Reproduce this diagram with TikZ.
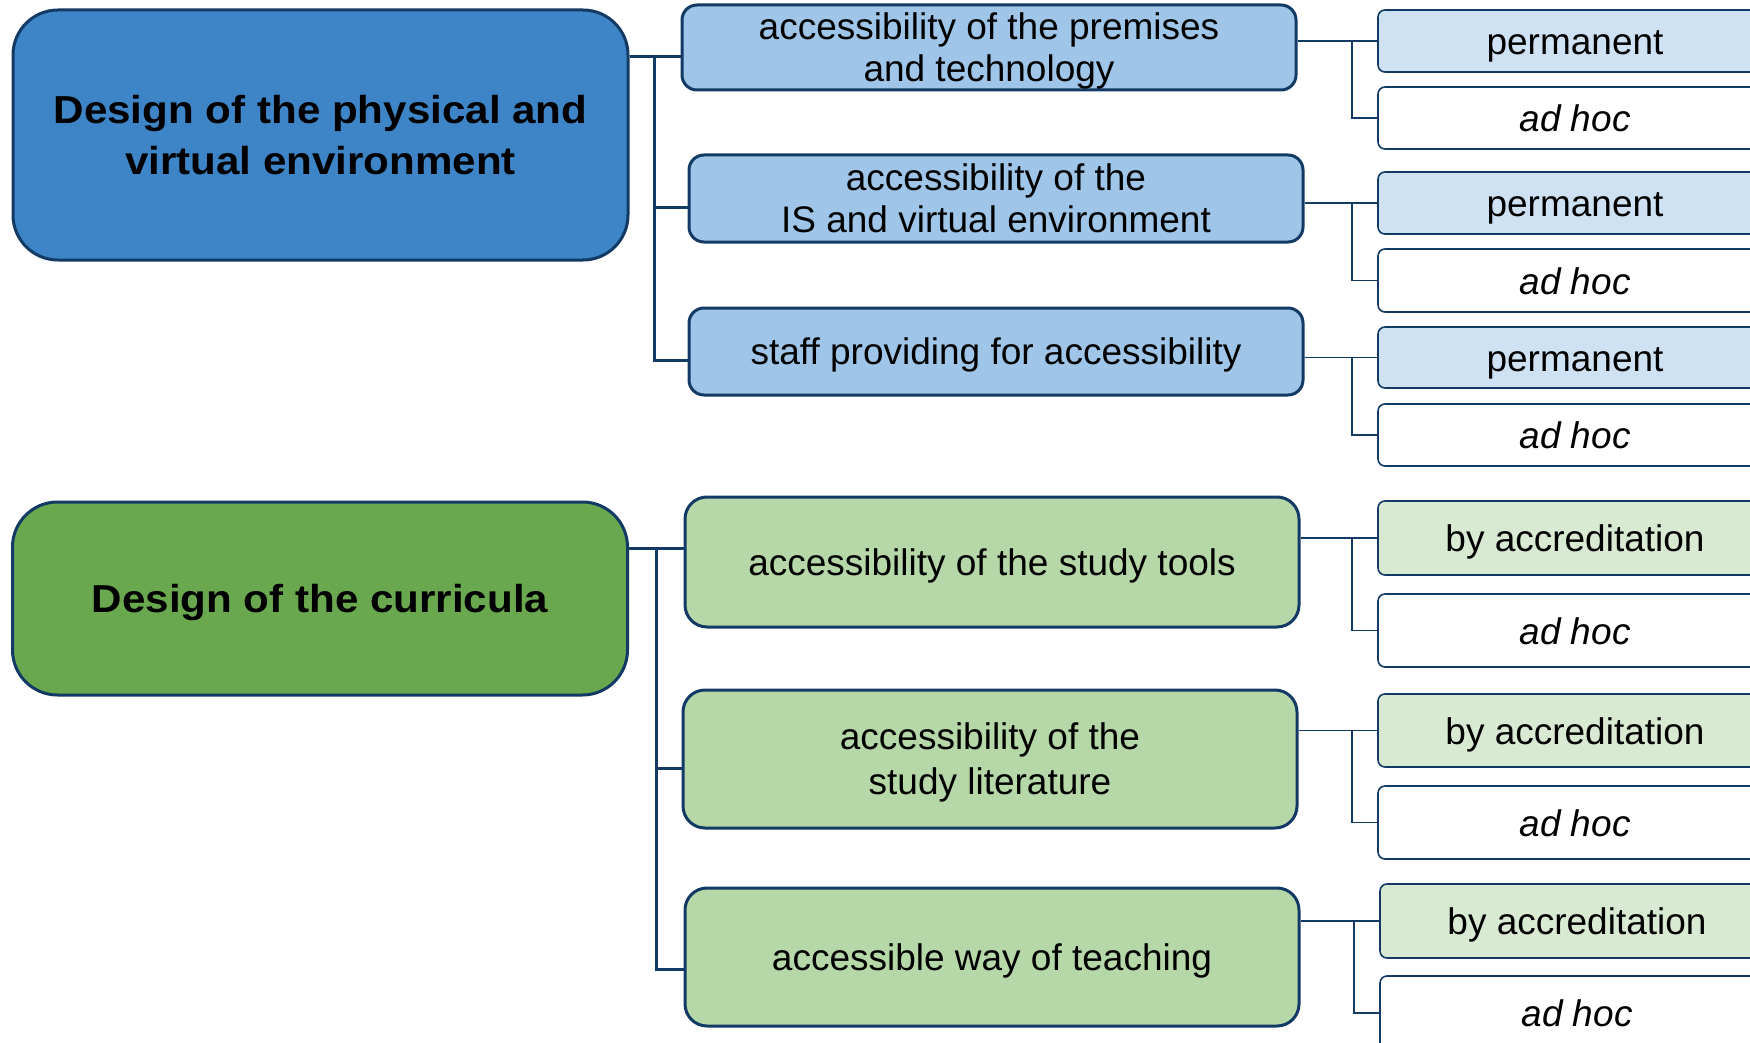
\documentclass[tikz,border=0pt]{standalone}
\usepackage{fontspec}
\setmainfont{Liberation Sans}
\newfontfamily\areafont[FakeStretch=1.08]{Liberation Sans}
\usepackage{xcolor}
\usepackage{tikz}
\usetikzlibrary{shapes,calc}
\definecolor{navy}{RGB}{18,58,100}
\definecolor{envblue}{RGB}{61,133,198}
\definecolor{envlight}{RGB}{159,197,232}
\definecolor{envpale}{RGB}{207,226,243}
\definecolor{curgreen}{RGB}{106,168,79}
\definecolor{curlight}{RGB}{182,215,168}
\definecolor{curpale}{RGB}{217,234,211}

\begin{document}
\begin{tikzpicture}[x=1pt, y=-1pt]
    \tikzstyle{area} = [rectangle, rounded corners=45pt, draw=navy, line width=3pt, minimum width=615pt, inner sep=2pt, text depth=0pt, align=center, font=\areafont\fontsize{39}{51}\selectfont\bfseries]
    \tikzstyle{aspect} = [rectangle, rounded corners=15pt, draw=navy, line width=3pt, minimum width=614pt, inner sep=2pt, text depth=0pt, align=center, font=\fontsize{37}{42}\selectfont]
    \tikzstyle{mode} = [rectangle, rounded corners=7pt, draw=navy, line width=1.6pt, minimum width=394pt, inner sep=2pt, text height=27pt, text depth=0pt, font=\fontsize{37}{42}\selectfont]
    \tikzstyle{trunk} = [line width=3pt, navy]
    \tikzstyle{twig} = [line width=1.6pt, navy]

    \useasboundingbox (0,0) rectangle (1750,1043);
    \clip (0,0) rectangle (1750,1043);

    % the two areas
    \node (env) [area, fill=envblue, minimum height=250pt] at (320.5,135) {Design of the physical and\\virtual environment};
    \node (cur) [area, fill=curgreen, minimum height=193pt] at (320,598.5) {Design of the curricula};

    % what each area covers
    \node (prem) [aspect, fill=envlight, minimum height=85pt] at (989,47.5) {accessibility of the premises\\and technology};
    \node (info) [aspect, fill=envlight, minimum height=87pt] at (996,198.5) {accessibility of the\\IS and virtual environment};
    \node (staff) [aspect, fill=envlight, minimum height=87pt] at (996,351.5) {staff providing for accessibility};
    \node (tools) [aspect, fill=curlight, rounded corners=22pt, minimum height=130pt] at (992,562) {accessibility of the study tools};
    \node (lit) [aspect, fill=curlight, rounded corners=22pt, minimum height=138pt, font=\fontsize{37}{45}\selectfont] at (990,759) {accessibility of the\\study literature};
    \node (teach) [aspect, fill=curlight, rounded corners=22pt, minimum height=138pt] at (992,957) {accessible way of teaching};

    % how it is provided
    \node (perm1) [mode, fill=envpale, minimum height=62pt] at (1575,41) {permanent};
    \node (hoc1) [mode, fill=white, minimum height=62pt] at (1575,118) {\itshape ad hoc};
    \node (perm2) [mode, fill=envpale, minimum height=62pt] at (1575,203) {permanent};
    \node (hoc2) [mode, fill=white, minimum height=63pt] at (1575,280.5) {\itshape ad hoc};
    \node (perm3) [mode, fill=envpale, minimum height=61pt] at (1575,357.5) {permanent};
    \node (hoc3) [mode, fill=white, minimum height=62pt] at (1575,435) {\itshape ad hoc};
    \node (accr4) [mode, fill=curpale, minimum height=74pt] at (1575,538) {by accreditation};
    \node (hoc4) [mode, fill=white, minimum height=73pt] at (1575,630.5) {\itshape ad hoc};
    \node (accr5) [mode, fill=curpale, minimum height=73pt] at (1575,730.5) {by accreditation};
    \node (hoc5) [mode, fill=white, minimum height=73pt] at (1575,822.5) {\itshape ad hoc};
    \node (accr6) [mode, fill=curpale, minimum height=74pt] at (1577,921) {by accreditation};
    \node (hoc6) [mode, fill=white, minimum height=74pt] at (1577,1013) {\itshape ad hoc};

    % entry points on the left of the middle boxes
    \coordinate (a1) at ($(prem.north west)!.6!(prem.south west)$);
    \coordinate (a2) at ($(info.north west)!.6!(info.south west)$);
    \coordinate (a3) at ($(staff.north west)!.6!(staff.south west)$);
    \coordinate (b1) at ($(tools.north west)!.4!(tools.south west)$);
    \coordinate (b2) at ($(lit.north west)!.57!(lit.south west)$);
    \coordinate (b3) at ($(teach.north west)!.59!(teach.south west)$);

    \draw [trunk] (env.east |- a1) -- (a1);
    \draw [trunk] (a1) ++(-26,0) coordinate (ta) |- (a3);
    \draw [trunk] (ta |- a2) -- (a2);

    \draw [trunk] (cur.east |- b1) -- (b1);
    \draw [trunk] (b1) ++(-27,0) coordinate (tb) |- (b3);
    \draw [trunk] (tb |- b2) -- (b2);

    \draw [twig] (prem.east |- perm1.west) -- (perm1.west);
    \draw [twig] (perm1.west) ++(-25,0) |- (hoc1.west);
    \draw [twig] (info.east |- perm2.west) -- (perm2.west);
    \draw [twig] (perm2.west) ++(-25,0) |- (hoc2.west);
    \draw [twig] (staff.east |- perm3.west) -- (perm3.west);
    \draw [twig] (perm3.west) ++(-25,0) |- (hoc3.west);
    \draw [twig] (tools.east |- accr4.west) -- (accr4.west);
    \draw [twig] (accr4.west) ++(-25,0) |- (hoc4.west);
    \draw [twig] (lit.east |- accr5.west) -- (accr5.west);
    \draw [twig] (accr5.west) ++(-25,0) |- (hoc5.west);
    \draw [twig] (teach.east |- accr6.west) -- (accr6.west);
    \draw [twig] (accr6.west) ++(-25,0) |- (hoc6.west);
\end{tikzpicture}
\end{document}
